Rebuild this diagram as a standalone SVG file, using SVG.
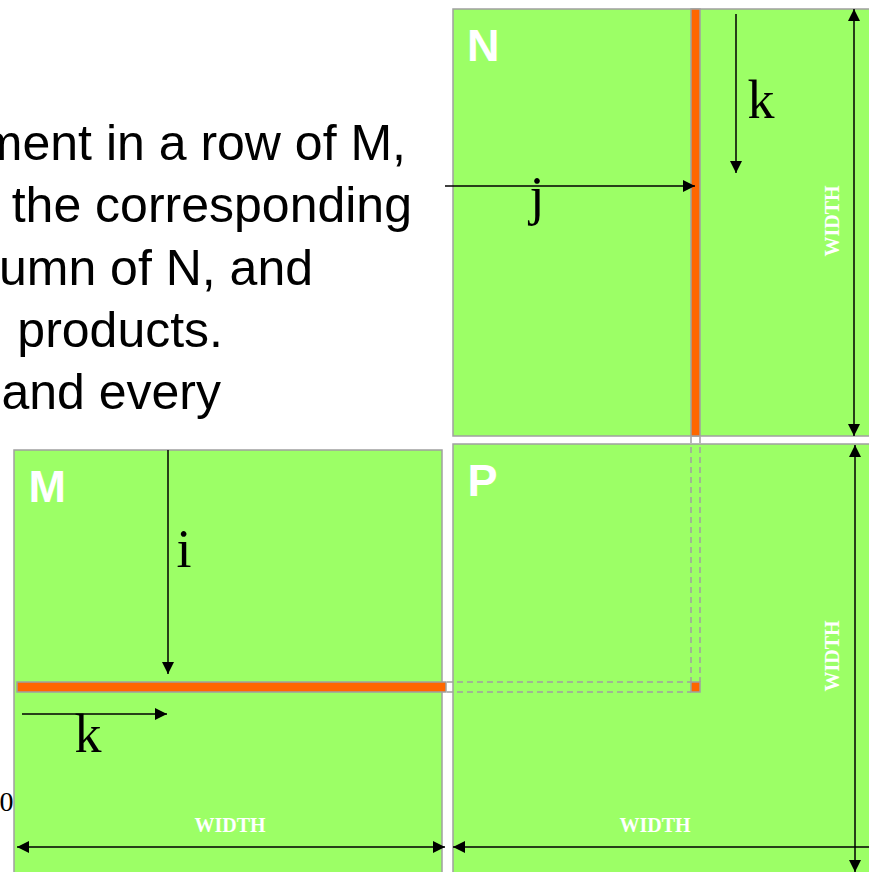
<svg xmlns="http://www.w3.org/2000/svg" width="869" height="872" viewBox="0 0 869 872">
<defs>
<style>
.mat{fill:#9CFF66;stroke:#A0A0A0;stroke-width:1.5}
.hl{fill:#FF6600;stroke:#A0A0A0;stroke-width:1.5}
.dash{fill:none;stroke:#A0A0A0;stroke-width:1.5;stroke-dasharray:6 4}
.arr{fill:none;stroke:#000;stroke-width:1.5}
.body{font-family:"Liberation Sans",Arial,sans-serif;font-size:50px;fill:#000}
.name{font-family:"Liberation Sans",Arial,sans-serif;font-size:45px;font-weight:bold;fill:#fff}
.idx{font-family:"Liberation Serif","Times New Roman",serif;font-size:54px;fill:#000;text-anchor:middle}
.dim{font-family:"Liberation Serif","Times New Roman",serif;font-size:20px;font-weight:bold;fill:#fff;text-anchor:middle}
</style>
<marker id="ah" viewBox="0 0 12 12" refX="12" refY="6" markerWidth="12" markerHeight="12" markerUnits="userSpaceOnUse" orient="auto-start-reverse">
<path d="M0,0 L12,6 L0,12 z" fill="#000"/>
</marker>
</defs>
<rect width="869" height="872" fill="#fff"/>

<g id="text-body" class="body">
<text x="406" y="160" text-anchor="end">ment in a row of M,</text>
<text x="412" y="222" text-anchor="end">the corresponding</text>
<text x="313" y="285" text-anchor="end">umn of N, and</text>
<text x="223" y="347" text-anchor="end"> products.</text>
<text x="221" y="409" text-anchor="end">and every</text>
</g>
<text x="-0.5" y="811" font-family="Liberation Serif,serif" font-size="28" fill="#000">0</text>

<g id="N">
<rect class="mat" x="453" y="9" width="430" height="427"/>
<rect class="hl" x="691" y="9" width="9" height="427"/>
<text class="name" x="467" y="61">N</text>
</g>

<g id="P">
<rect class="mat" x="453" y="444" width="430" height="440"/>
<rect class="hl" x="691" y="682" width="9" height="10"/>
<text class="name" x="467.5" y="496">P</text>
</g>

<g id="M">
<rect class="mat" x="14" y="450" width="428" height="434"/>
<rect class="hl" x="17" y="682" width="429" height="10"/>
<text class="name" x="28.5" y="502">M</text>
</g>

<g id="connectors">
<path class="dash" d="M691,437 V682 M700,437 V682 M447,682 H691 M447,692 H691"/>
<line class="arr" x1="168" y1="450" x2="168" y2="674" marker-end="url(#ah)"/>
<line class="arr" x1="22" y1="714" x2="167" y2="714" marker-end="url(#ah)"/>
<line class="arr" x1="445" y1="186" x2="695" y2="186" marker-end="url(#ah)"/>
<line class="arr" x1="736" y1="14" x2="736" y2="173" marker-end="url(#ah)"/>
<line class="arr" x1="17" y1="847" x2="445" y2="847" marker-start="url(#ah)" marker-end="url(#ah)"/>
<line class="arr" x1="453" y1="847" x2="881" y2="847" marker-start="url(#ah)" marker-end="url(#ah)"/>
<line class="arr" x1="854" y1="9" x2="854" y2="436" marker-start="url(#ah)" marker-end="url(#ah)"/>
<line class="arr" x1="855" y1="445" x2="855" y2="872" marker-start="url(#ah)" marker-end="url(#ah)"/>
</g>

<g id="labels">
<text class="idx" x="184" y="567">i</text>
<text class="idx" x="88" y="752">k</text>
<text class="idx" x="761" y="118">k</text>
<text class="idx" x="537" y="214">j</text>
<text class="dim" x="230" y="832">WIDTH</text>
<text class="dim" x="655" y="832">WIDTH</text>
<text class="dim" transform="translate(839,221) rotate(-90)">WIDTH</text>
<text class="dim" transform="translate(839,656) rotate(-90)">WIDTH</text>
</g>
</svg>
